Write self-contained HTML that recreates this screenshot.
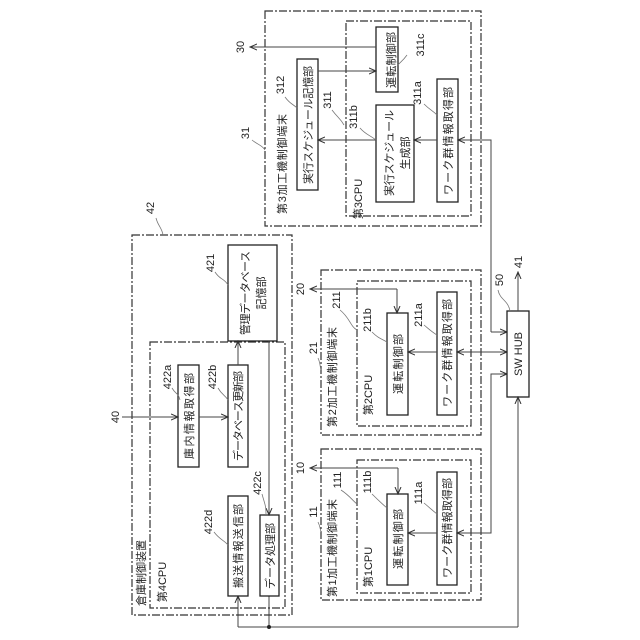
<!DOCTYPE html>
<html><head><meta charset="utf-8"><style>
html,body{margin:0;padding:0;background:#fff}
svg{display:block}
text{font-family:"Liberation Sans","Noto Sans CJK JP",sans-serif;fill:#222}
.b{fill:#fff;stroke:#222;stroke-width:1.3}
.o{fill:none;stroke:#333;stroke-width:1.2;stroke-dasharray:8 2 2 2}
.l{fill:none;stroke:#444;stroke-width:1}
.ld{fill:none;stroke:#777;stroke-width:0.8}
</style></head><body>
<svg width="640" height="640" viewBox="0 0 640 640" xmlns="http://www.w3.org/2000/svg">
<defs><marker id="a" markerWidth="8" markerHeight="8" refX="7" refY="4" orient="auto" markerUnits="userSpaceOnUse"><path d="M0,1 L7,4 L0,7" fill="none" stroke="#333" stroke-width="1"/></marker></defs>

<!-- Box 31 -->
<rect class="o" x="265" y="11" width="216" height="215"/>
<rect class="o" x="346" y="21" width="125" height="195"/>
<rect class="b" x="376" y="27" width="22" height="65"/>
<rect class="b" x="297" y="59" width="21" height="131"/>
<rect class="b" x="376" y="105" width="38" height="97"/>
<rect class="b" x="437" y="79" width="21" height="123"/>
<line class="l" x1="376" y1="47" x2="250" y2="47" marker-end="url(#a)"/>
<line class="l" x1="318" y1="71" x2="376" y2="71" marker-end="url(#a)"/>
<line class="l" x1="376" y1="140" x2="318" y2="140" marker-end="url(#a)"/>
<line class="l" x1="437" y1="140" x2="414" y2="140" marker-end="url(#a)"/>
<polyline class="l" points="491,332 491,140 458,140" marker-end="url(#a)"/>
<line class="l" x1="491" y1="332" x2="507" y2="332" marker-end="url(#a)"/>

<g font-size="11">
<text transform="translate(391,60) rotate(-90)" text-anchor="middle" dy="4" textLength="56">運転制御部</text>
<text transform="translate(308,125) rotate(-90)" text-anchor="middle" dy="4" textLength="118">実行スケジュール記憶部</text>
<text transform="translate(389,153) rotate(-90)" text-anchor="middle" dy="4" textLength="86">実行スケジュール</text>
<text transform="translate(405,153) rotate(-90)" text-anchor="middle" dy="4">生成部</text>
<text transform="translate(448,141) rotate(-90)" text-anchor="middle" dy="4" textLength="108">ワーク群情報取得部</text>
<text transform="translate(282,164) rotate(-90)" text-anchor="middle" dy="4" textLength="100">第3加工機制御端末</text>
<text transform="translate(358,199) rotate(-90)" text-anchor="middle" dy="4">第3CPU</text>
</g>
<g font-size="11">
<text transform="translate(240,47) rotate(-90)" text-anchor="middle" dy="4">30</text>
<text transform="translate(280,85) rotate(-90)" text-anchor="middle" dy="4">312</text>
<text transform="translate(327,100) rotate(-90)" text-anchor="middle" dy="4">311</text>
<text transform="translate(353,117) rotate(-90)" text-anchor="middle" dy="4">311b</text>
<text transform="translate(420,45) rotate(-90)" text-anchor="middle" dy="4">311c</text>
<text transform="translate(417,93) rotate(-90)" text-anchor="middle" dy="4">311a</text>
<text transform="translate(245,133) rotate(-90)" text-anchor="middle" dy="4">31</text>
</g>

<!-- Box 21 -->
<rect class="o" x="321" y="270" width="160" height="165"/>
<rect class="o" x="357" y="281" width="114" height="145"/>
<rect class="b" x="387" y="313" width="21" height="102"/>
<rect class="b" x="437" y="292" width="20" height="123"/>
<polyline class="l" points="397,289 310,289"  marker-end="url(#a)"/>
<polyline class="l" points="397,289 397,313" marker-end="url(#a)"/>
<line class="l" x1="437" y1="352" x2="408" y2="352" marker-end="url(#a)"/>
<line class="l" x1="480" y1="352" x2="457" y2="352" marker-end="url(#a)"/>
<line class="l" x1="470" y1="352" x2="507" y2="352" marker-end="url(#a)"/>
<g font-size="11">
<text transform="translate(398,364) rotate(-90)" text-anchor="middle" dy="4" textLength="60">運転制御部</text>
<text transform="translate(447,353) rotate(-90)" text-anchor="middle" dy="4" textLength="108">ワーク群情報取得部</text>
<text transform="translate(332,377) rotate(-90)" text-anchor="middle" dy="4" textLength="100">第2加工機制御端末</text>
<text transform="translate(368,395) rotate(-90)" text-anchor="middle" dy="4">第2CPU</text>
</g>
<g font-size="11">
<text transform="translate(300,289) rotate(-90)" text-anchor="middle" dy="4">20</text>
<text transform="translate(313,348) rotate(-90)" text-anchor="middle" dy="4">21</text>
<text transform="translate(336,300) rotate(-90)" text-anchor="middle" dy="4">211</text>
<text transform="translate(367,320) rotate(-90)" text-anchor="middle" dy="4">211b</text>
<text transform="translate(418,315) rotate(-90)" text-anchor="middle" dy="4">211a</text>
</g>

<!-- Box 11 -->
<rect class="o" x="321" y="449" width="160" height="151"/>
<rect class="o" x="357" y="460" width="114" height="133"/>
<rect class="b" x="387" y="494" width="21" height="91"/>
<rect class="b" x="437" y="472" width="20" height="113"/>
<polyline class="l" points="398,468 310,468" marker-end="url(#a)"/>
<polyline class="l" points="398,468 398,494" marker-end="url(#a)"/>
<line class="l" x1="437" y1="533" x2="408" y2="533" marker-end="url(#a)"/>
<line class="l" x1="480" y1="533" x2="457" y2="533" marker-end="url(#a)"/>
<polyline class="l" points="470,533 491,533 491,374 507,374" marker-end="url(#a)"/>
<g font-size="11">
<text transform="translate(398,539) rotate(-90)" text-anchor="middle" dy="4" textLength="60">運転制御部</text>
<text transform="translate(447,528) rotate(-90)" text-anchor="middle" dy="4" textLength="100">ワーク群情報取得部</text>
<text transform="translate(332,548) rotate(-90)" text-anchor="middle" dy="4" textLength="98">第1加工機制御端末</text>
<text transform="translate(368,567) rotate(-90)" text-anchor="middle" dy="4">第1CPU</text>
</g>
<g font-size="11">
<text transform="translate(300,468) rotate(-90)" text-anchor="middle" dy="4">10</text>
<text transform="translate(313,512) rotate(-90)" text-anchor="middle" dy="4">11</text>
<text transform="translate(337,480) rotate(-90)" text-anchor="middle" dy="4">111</text>
<text transform="translate(367,482) rotate(-90)" text-anchor="middle" dy="4">111b</text>
<text transform="translate(418,493) rotate(-90)" text-anchor="middle" dy="4">111a</text>
</g>

<!-- Hub -->
<rect class="b" x="507" y="311" width="22" height="86"/>
<text transform="translate(518,354) rotate(-90)" text-anchor="middle" dy="4" font-size="11">SW  HUB</text>
<line class="l" x1="518" y1="311" x2="518" y2="272" marker-end="url(#a)"/>
<text transform="translate(518,262) rotate(-90)" text-anchor="middle" dy="4" font-size="11">41</text>
<text transform="translate(499,280) rotate(-90)" text-anchor="middle" dy="4" font-size="11">50</text>
<path class="ld" d="M498,290 C500,300 508,300 510,311"/>
<polyline class="l" points="518,627 518,397" marker-end="url(#a)"/>
<line class="l" x1="518" y1="627" x2="238" y2="627"/>
<line class="l" x1="238" y1="627" x2="238" y2="596" marker-end="url(#a)"/>
<line class="l" x1="269" y1="596" x2="269" y2="627"/>
<circle cx="269" cy="627" r="2" fill="#222"/>

<!-- Warehouse 42 -->
<rect class="o" x="132" y="235" width="160" height="380"/>
<rect class="o" x="150" y="342" width="135" height="266"/>
<rect class="b" x="228" y="245" width="49" height="96"/>
<rect class="b" x="178" y="365" width="21" height="102"/>
<rect class="b" x="228" y="365" width="20" height="102"/>
<rect class="b" x="228" y="496" width="20" height="100"/>
<rect class="b" x="260" y="515" width="19" height="81"/>
<line class="l" x1="122" y1="417" x2="178" y2="417" marker-end="url(#a)"/>
<line class="l" x1="199" y1="417" x2="228" y2="417" marker-end="url(#a)"/>
<line class="l" x1="238" y1="365" x2="238" y2="341" marker-end="url(#a)"/>
<line class="l" x1="269" y1="341" x2="269" y2="515" marker-end="url(#a)"/>
<g font-size="11">
<text transform="translate(245,293) rotate(-90)" text-anchor="middle" dy="4" textLength="84">管理データベース</text>
<text transform="translate(261,293) rotate(-90)" text-anchor="middle" dy="4">記憶部</text>
<text transform="translate(189,416) rotate(-90)" text-anchor="middle" dy="4" textLength="86">庫内情報取得部</text>
<text transform="translate(238,416) rotate(-90)" text-anchor="middle" dy="4" textLength="90">データベース更新部</text>
<text transform="translate(238,546) rotate(-90)" text-anchor="middle" dy="4" textLength="84">搬送情報送信部</text>
<text transform="translate(270,556) rotate(-90)" text-anchor="middle" dy="4" textLength="66">データ処理部</text>
<text transform="translate(141,573) rotate(-90)" text-anchor="middle" dy="4">倉庫制御装置</text>
<text transform="translate(162,582) rotate(-90)" text-anchor="middle" dy="4">第4CPU</text>
</g>
<g font-size="11">
<text transform="translate(150,208) rotate(-90)" text-anchor="middle" dy="4">42</text>
<text transform="translate(115,417) rotate(-90)" text-anchor="middle" dy="4">40</text>
<text transform="translate(210,263) rotate(-90)" text-anchor="middle" dy="4">421</text>
<text transform="translate(167,377) rotate(-90)" text-anchor="middle" dy="4">422a</text>
<text transform="translate(212,377) rotate(-90)" text-anchor="middle" dy="4">422b</text>
<text transform="translate(257,483) rotate(-90)" text-anchor="middle" dy="4">422c</text>
<text transform="translate(208,522) rotate(-90)" text-anchor="middle" dy="4">422d</text>
</g>
<g class="ld">
<path d="M156,218 C158,226 162,228 163,235"/>
<path d="M215,272 C220,280 224,278 228,285"/>
<path d="M172,388 C176,395 178,392 180,400"/>
<path d="M218,388 C222,395 225,395 228,400"/>
<path d="M262,494 C265,505 266,505 266,515"/>
<path d="M214,532 C220,540 224,540 228,545"/>
<path d="M285,97 C290,104 293,104 297,108"/>
<path d="M332,110 C338,118 340,118 344,125"/>
<path d="M360,128 C366,135 370,135 376,140"/>
<path d="M407,55 C402,62 400,62 398,65"/>
<path d="M424,104 C430,110 432,110 437,115"/>
<path d="M252,140 C258,145 262,145 265,150"/>
<path d="M318,358 C320,362 320,366 321,370"/>
<path d="M340,310 C350,318 350,326 357,330"/>
<path d="M372,332 C378,338 380,338 387,342"/>
<path d="M424,325 C430,330 432,332 437,335"/>
<path d="M318,522 C320,526 320,528 321,532"/>
<path d="M341,490 C350,496 352,500 357,504"/>
<path d="M372,494 C378,500 380,502 387,508"/>
<path d="M424,503 C430,508 432,510 437,514"/>
</g>
</svg>
</body></html>
